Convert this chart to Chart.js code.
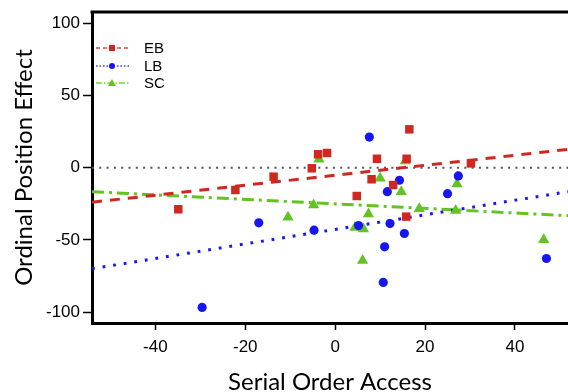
<!DOCTYPE html>
<html>
<head>
<meta charset="utf-8">
<script src="https://cdn.jsdelivr.net/npm/chart.js@4.4.0/dist/chart.umd.min.js"></script>
<style>
html, body { margin: 0; padding: 0; background: #fff; overflow: hidden; }
</style>
</head>
<body>
<canvas id="myChart" width="568" height="392"></canvas>
<script>
// series names
let seriesNames = ["EB", "LB", "SC"];

// EB points (red squares)
let ebX = [-34.9, -22.2, -13.7, -5.2, -3.8, -1.8, 4.8, 8.1, 9.3, 12.9, 15.8, 15.9, 16.5, 30.2];
let ebY = [-28.8, -15.4, -6.2, -0.4, 9.3, 10.2, -19.6, -8.0, 6.2, -12.0, -33.9, 6.2, 26.6, 3.0];

// LB points (blue circles)
let lbX = [-29.6, -17.0, -4.7, 5.2, 7.6, 10.7, 11.0, 11.6, 12.2, 14.3, 15.4, 25.0, 27.4, 47.0];
let lbY = [-96.8, -38.2, -43.3, -40.1, 21.2, -79.5, -54.8, -16.6, -38.7, -8.7, -45.6, -18.0, -5.7, -62.9];

// SC points (green triangles)
let scX = [-10.5, -4.8, -3.6, 4.4, 6.1, 6.3, 7.4, 10.0, 14.7, 15.6, 18.7, 26.8, 27.1, 46.4];
let scY = [-34.3, -25.8, 5.8, -41.5, -64.3, -42.4, -32.0, -7.3, -16.6, 4.6, -28.4, -29.7, -11.3, -50.0];

// fitted lines, value at left and right edge of the plot
let fitX = [-54.1, 51.8];
let ebFit = [-23.9, 12.7];
let lbFit = [-70.0, -16.6];
let scFit = [-16.6, -33.2];
let refLine = [0, 0];

// axes
let xRange = [-54.1, 51.8];
let yRange = [-107.6, 107.9];
let xTicks = [-40, -20, 0, 20, 40];
let yTicks = [-100, -50, 0, 50, 100];

const RED = "#d0271f";
const BLUE = "#1616f2";
const GREEN = "#63c322";

function pts(xs, ys) {
  return xs.map((x, i) => ({ x: x, y: ys[i] }));
}

// top border of the plot box + legend inside the plot
const boxAndLegend = {
  id: "boxAndLegend",
  afterDraw(chart) {
    const ctx = chart.ctx;
    const a = chart.chartArea;
    ctx.save();
    ctx.strokeStyle = "#000";
    ctx.lineWidth = 3;
    ctx.beginPath();
    ctx.moveTo(a.left - 1.5, a.top);
    ctx.lineTo(a.right + 2, a.top);
    ctx.stroke();

    const items = [
      { c: "#dd4a40", dash: [4, 3], mark: "rect", col: RED },
      { c: "#3a3af5", dash: [1.5, 2], mark: "circle", col: BLUE },
      { c: "#7ccf45", dash: [6, 2, 1.5, 2], mark: "tri", col: GREEN }
    ];
    const ys = [48, 66, 83];
    items.forEach((it, i) => {
      const y = ys[i];
      ctx.setLineDash(it.dash);
      ctx.strokeStyle = it.c;
      ctx.lineWidth = 1.3;
      ctx.beginPath();
      ctx.moveTo(96, y);
      ctx.lineTo(129, y);
      ctx.stroke();
      ctx.setLineDash([]);
      ctx.fillStyle = it.col;
      const mx = 112;
      if (it.mark === "rect") {
        ctx.fillRect(mx - 3, y - 3, 6, 6);
      } else if (it.mark === "circle") {
        ctx.beginPath();
        ctx.arc(mx, y, 3, 0, Math.PI * 2);
        ctx.fill();
      } else {
        ctx.beginPath();
        ctx.moveTo(mx, y - 4);
        ctx.lineTo(mx + 4, y + 3);
        ctx.lineTo(mx - 4, y + 3);
        ctx.closePath();
        ctx.fill();
      }
      ctx.fillStyle = "#000";
      ctx.font = "15px 'Liberation Sans', Arial, sans-serif";
      ctx.textBaseline = "middle";
      ctx.textAlign = "left";
      ctx.fillText(seriesNames[i], 144, y + 1);
    });
    ctx.restore();
  }
};

const tickFont = { family: "'Liberation Sans', Arial, sans-serif", size: 17 };
const titleFont = { family: "Lato, 'Open Sans', sans-serif", size: 24, lineHeight: 1 };

new Chart("myChart", {
  type: "scatter",
  data: {
    datasets: [
      {
        label: seriesNames[0],
        data: pts(ebX, ebY),
        pointStyle: "rect",
        pointRadius: 6,
        pointBackgroundColor: RED,
        pointBorderWidth: 0,
        order: 1
      },
      {
        label: seriesNames[1],
        data: pts(lbX, lbY),
        pointStyle: "circle",
        pointRadius: 4.6,
        pointBackgroundColor: BLUE,
        pointBorderWidth: 0,
        order: 2
      },
      {
        label: seriesNames[2],
        data: pts(scX, scY),
        pointStyle: "triangle",
        pointRadius: 6.5,
        pointBackgroundColor: GREEN,
        pointBorderWidth: 0,
        order: 3
      },
      {
        label: "EB fit",
        type: "line",
        data: pts(fitX, ebFit),
        borderColor: RED,
        borderWidth: 3,
        borderDash: [10, 8],
        pointRadius: 0,
        order: 10
      },
      {
        label: "LB fit",
        type: "line",
        data: pts(fitX, lbFit),
        borderColor: BLUE,
        borderWidth: 3,
        borderDash: [2.8, 7.9],
        pointRadius: 0,
        order: 11
      },
      {
        label: "SC fit",
        type: "line",
        data: pts(fitX, scFit),
        borderColor: GREEN,
        borderWidth: 3,
        borderDash: [12, 5, 3, 5],
        pointRadius: 0,
        order: 12
      },
      {
        label: "zero",
        type: "line",
        data: pts(xRange, refLine),
        borderColor: "#555",
        borderWidth: 2,
        borderDash: [2, 5.3],
        pointRadius: 0,
        order: 20
      }
    ]
  },
  options: {
    responsive: false,
    animation: false,
    layout: { autoPadding: false, padding: { top: 12, right: 0, left: 0, bottom: 0 } },
    plugins: {
      legend: { display: false },
      tooltip: { enabled: false }
    },
    scales: {
      x: {
        type: "linear",
        min: xRange[0],
        max: xRange[1],
        afterFit: s => { s.height = 69; s.paddingLeft = 0; s.paddingRight = 0; },
        afterBuildTicks: s => { s.ticks = xTicks.map(v => ({ value: v })); },
        grid: { drawOnChartArea: false, drawTicks: true, tickLength: 7, tickWidth: 1.5, tickColor: "#000" },
        border: { display: true, color: "#000", width: 3 },
        ticks: { color: "#000", font: tickFont, padding: 7 },
        title: { display: true, text: "Serial Order Access", color: "#000", font: titleFont, padding: { top: 0, bottom: -2 } }
      },
      y: {
        type: "linear",
        min: yRange[0],
        max: yRange[1],
        afterFit: s => { s.width = 92; s.paddingTop = 0; s.paddingBottom = 0; },
        afterBuildTicks: s => { s.ticks = yTicks.map(v => ({ value: v })); },
        grid: { drawOnChartArea: false, drawTicks: true, tickLength: 9, tickWidth: 1.5, tickColor: "#000" },
        border: { display: true, color: "#000", width: 3 },
        ticks: { color: "#000", font: tickFont, padding: 3 },
        title: { display: true, text: "Ordinal Position Effect", color: "#000", font: titleFont, padding: { top: 12, bottom: 0 } }
      }
    }
  },
  plugins: [boxAndLegend]
});
</script>
</body>
</html>
